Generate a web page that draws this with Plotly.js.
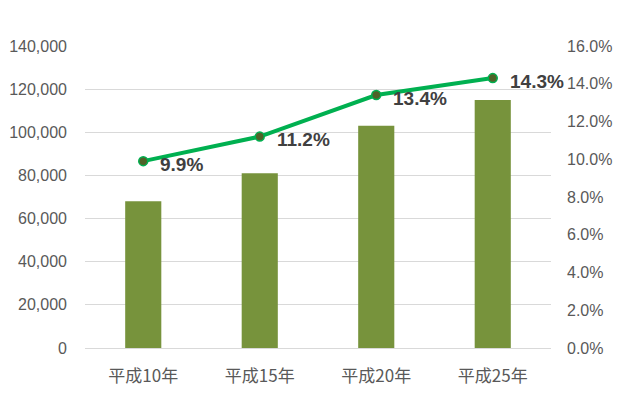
<!DOCTYPE html>
<html><head><meta charset="utf-8">
<script src="https://cdn.plot.ly/plotly-3.0.1.min.js"></script>
<style>html,body{margin:0;padding:0;background:#fff}#c{width:622px;height:395px}</style>
</head><body><div id="c"></div>
<script>
const categories = ["平成10年","平成15年","平成20年","平成25年"];
const barValues = [68000, 81000, 103000, 115000];
const rateValues = [0.099, 0.112, 0.134, 0.143];
const rateLabels = ["9.9%","11.2%","13.4%","14.3%"];

const tickFont = {family: "Liberation Sans, Noto Sans CJK JP, sans-serif", size: 16, color: "#595959"};
const data = [
  {type: "bar", x: categories, y: barValues, marker: {color: "#77933C"}, width: 0.31, hoverinfo: "none"},
  {type: "scatter", mode: "lines+markers", x: categories, y: rateValues, yaxis: "y2",
   line: {color: "#00B050", width: 4},
   marker: {color: "#4F6228", size: 9, line: {color: "#00B050", width: 1.5}},
   cliponaxis: false, hoverinfo: "none"}
];
const annotations = categories.map((c, i) => ({
  x: c, y: rateValues[i], xref: "x", yref: "y2", text: rateLabels[i],
  showarrow: false, xanchor: "left", yanchor: "middle", xshift: 15, yshift: -3,
  font: {family: "Liberation Sans, sans-serif", size: 19, color: "#404040", weight: "bold"}
}));
const layout = {
  width: 622, height: 395,
  margin: {l: 85, r: 71, t: 46, b: 47},
  showlegend: false,
  paper_bgcolor: "#fff", plot_bgcolor: "#fff",
  annotations: annotations,
  xaxis: {automargin: false, range: [-0.5, 3.5], autorange: false, tickfont: {family: "Noto Sans CJK JP, sans-serif", size: 17, color: "#595959"}, showline: true, linecolor: "#D9D9D9", linewidth: 1, ticks: "", ticklabelstandoff: 13},
  yaxis: {automargin: false, range: [0, 140000], dtick: 20000, tickformat: ",", tickfont: tickFont, gridcolor: "#D9D9D9", zeroline: false, ticklabelstandoff: 17},
  yaxis2: {automargin: false, range: [0, 0.16], dtick: 0.02, tickformat: ".1%", overlaying: "y", side: "right", tickfont: tickFont, showgrid: false, zeroline: false, ticklabelstandoff: 15}
};
Plotly.newPlot("c", data, layout, {displayModeBar: false, staticPlot: true});
</script></body></html>
